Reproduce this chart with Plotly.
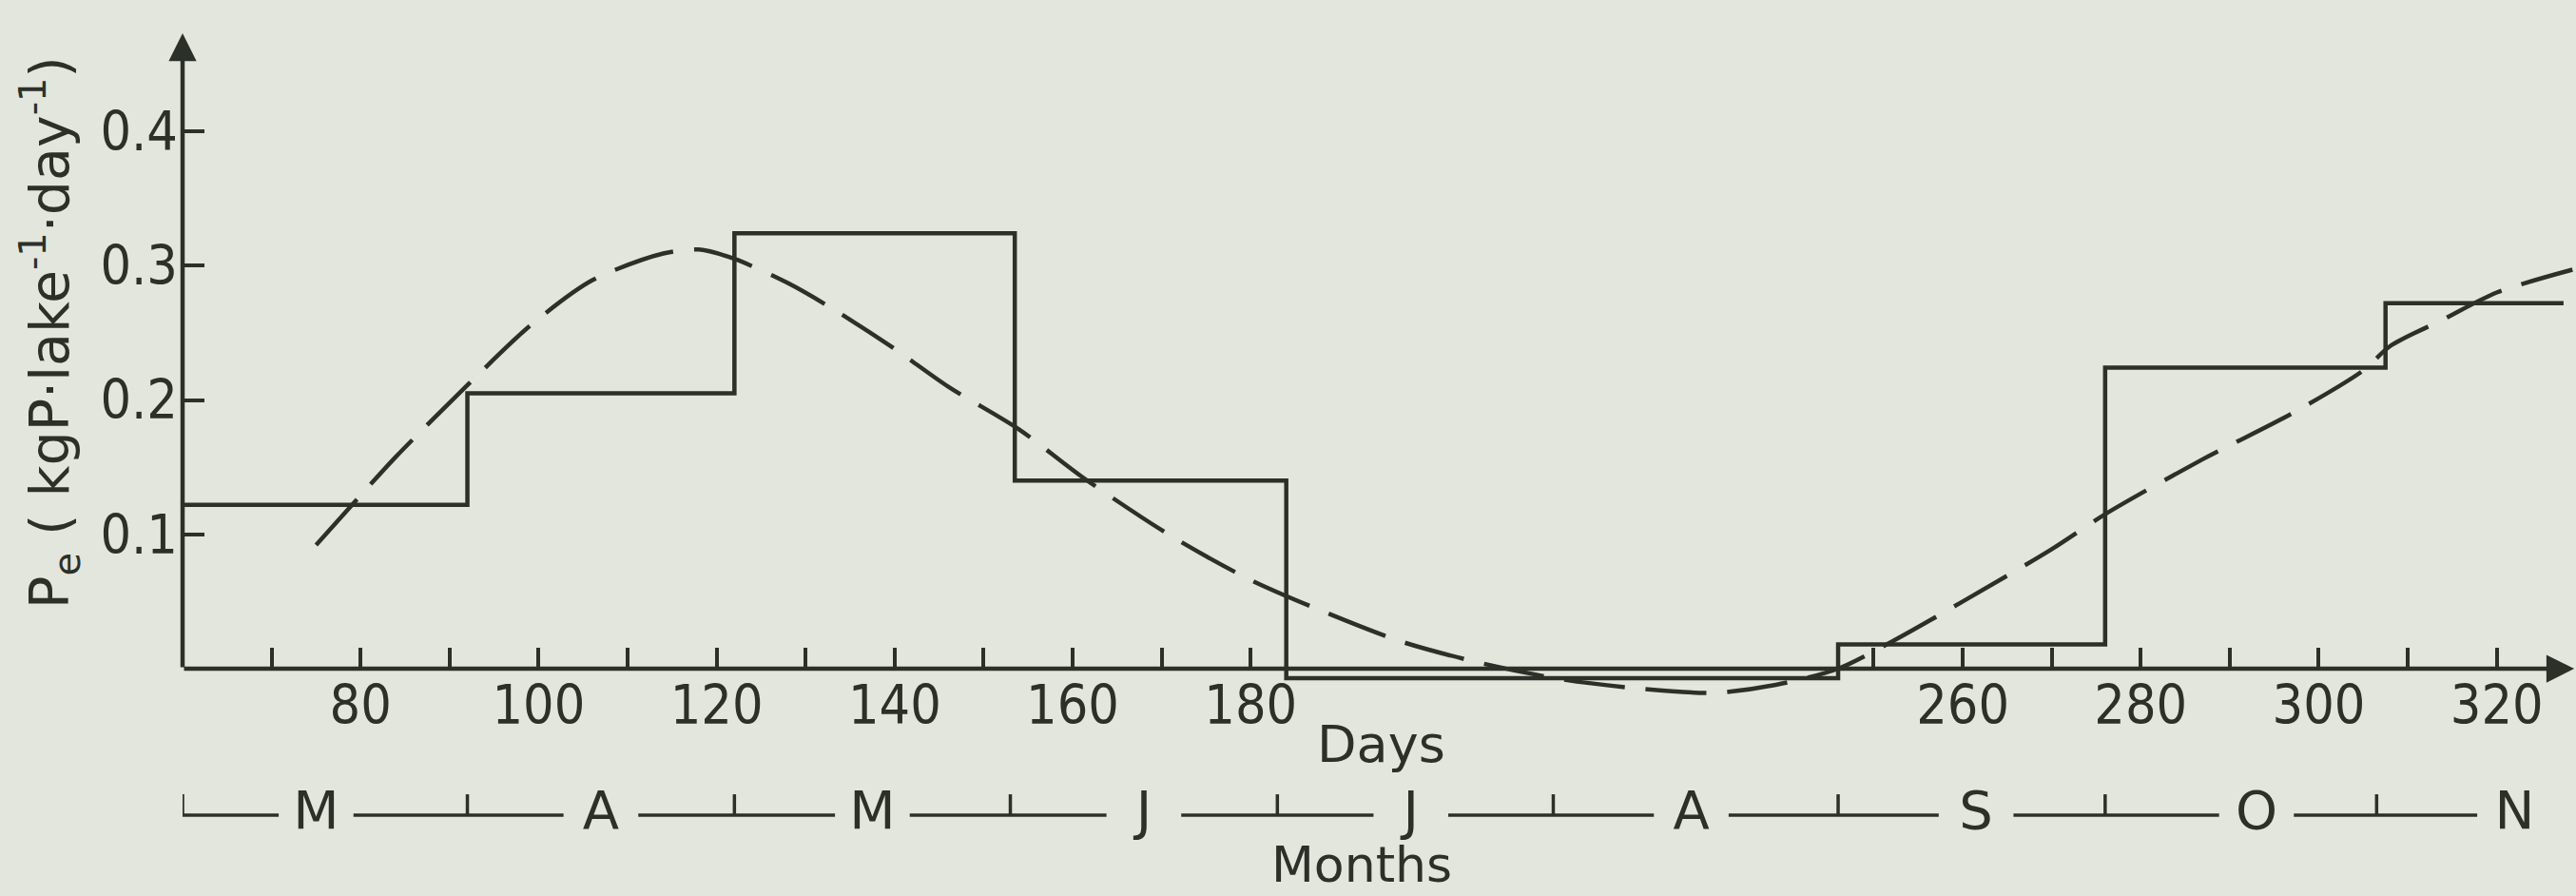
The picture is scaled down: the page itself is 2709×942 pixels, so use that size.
"""Epilimnion phosphorus loading from deeper layers: monthly budget vs. fitted curve."""
import plotly.graph_objects as go

# --- data ------------------------------------------------------------------
# step series: monthly loading (edges in day-of-year, one value per month)
month_edges = [60, 92, 122, 153.5, 184, 214, 246, 276, 307.5, 327.5]
month_values = [0.122, 0.205, 0.324, 0.140, -0.007, -0.007, 0.018, 0.224, 0.272]

# dashed curve
curve_days = [75, 80, 84, 92, 99, 106, 114, 118, 122, 128, 133, 140, 146, 154,
              161, 171, 180, 188, 197, 206, 215, 224, 232, 239, 246, 252, 260,
              270, 276, 287, 297, 305, 308, 314, 320, 328.5]
curve_values = [0.092, 0.129, 0.158, 0.211, 0.255, 0.289, 0.309, 0.312, 0.305,
                0.287, 0.268, 0.238, 0.21, 0.178, 0.143, 0.099, 0.066, 0.043,
                0.02, 0.004, -0.008, -0.015, -0.018, -0.012, 0.0, 0.02, 0.05,
                0.089, 0.115, 0.156, 0.19, 0.222, 0.24, 0.26, 0.28, 0.297]

day_labels = [80, 100, 120, 140, 160, 180, 260, 280, 300, 320]
day_minor = [70, 90, 110, 130, 150, 170, 250, 270, 290, 310]
y_ticks = [0.1, 0.2, 0.3, 0.4]

month_letters = ["M", "A", "M", "J", "J", "A", "S", "O", "N"]
month_centers = [75, 107, 137.5, 168, 198, 229.5, 261.5, 293, 322]
month_ticks = [60, 92, 122, 153, 183, 214, 246, 276, 306.5]

# --- styling / geometry ----------------------------------------------------
INK = "#2b3029"
PAPER = "#e3e6dd"
TICK_FONT = "DejaVu Sans Condensed, Liberation Sans, sans-serif"
TEXT_FONT = "DejaVu Sans, Verdana, sans-serif"

X_RANGE = [60, 328.9]
Y_RANGE = [-0.1692, 0.4977]
ROW_Y = -0.109        # month row baseline
ROW_TICK = 0.0155     # month tick height
GAP = 4.2             # half gap (days) around month letters

fig = go.Figure()

# monthly step line
fig.add_trace(go.Scatter(
    x=month_edges, y=month_values + [month_values[-1]], mode="lines",
    line_shape="hv", line=dict(color=INK, width=4.5), hoverinfo="skip",
))

# dashed curve
fig.add_trace(go.Scatter(
    x=curve_days, y=curve_values, mode="lines",
    line=dict(color=INK, width=4.5, dash="64px,22px", shape="spline", smoothing=0.8),
    hoverinfo="skip",
))

# month row: line pieces broken around letters
row_x, row_y = [], []
start = month_ticks[0]
for c in month_centers:
    if c - GAP > start:
        row_x += [start, c - GAP, None]
        row_y += [ROW_Y, ROW_Y, None]
    start = c + GAP
tick_x, tick_y = [], []
for t in month_ticks:
    tick_x += [t, t, None]
    tick_y += [ROW_Y, ROW_Y + ROW_TICK, None]
fig.add_trace(go.Scatter(x=row_x, y=row_y, mode="lines",
                         line=dict(color=INK, width=3.5), hoverinfo="skip"))
fig.add_trace(go.Scatter(x=tick_x, y=tick_y, mode="lines",
                         line=dict(color=INK, width=3.5), hoverinfo="skip"))
fig.add_trace(go.Scatter(
    x=month_centers, y=[ROW_Y] * len(month_centers), mode="text",
    text=month_letters, textposition="middle center",
    textfont=dict(family=TEXT_FONT, size=56, color=INK), hoverinfo="skip",
))

# axis lines with arrow heads
fig.add_annotation(x=X_RANGE[1] - 0.2, y=0, ax=X_RANGE[0], ay=0,
                   xref="x", yref="y", axref="x", ayref="y", text="",
                   showarrow=True, arrowhead=2, arrowsize=1.3, arrowwidth=4.5,
                   arrowcolor=INK, standoff=0)
fig.add_annotation(x=X_RANGE[0], y=0.473, ax=X_RANGE[0], ay=0,
                   xref="x", yref="y", axref="x", ayref="y", text="",
                   showarrow=True, arrowhead=2, arrowsize=1.3, arrowwidth=4.5,
                   arrowcolor=INK, standoff=0)

# axis titles
fig.add_annotation(x=194.7, y=-0.0566, xref="x", yref="y", text="Days",
                   showarrow=False, font=dict(family=TEXT_FONT, size=54, color=INK))
fig.add_annotation(x=192.5, y=Y_RANGE[0] + 0.001, xref="x", yref="y", text="Months",
                   yanchor="bottom", showarrow=False,
                   font=dict(family=TEXT_FONT, size=52, color=INK))
fig.add_annotation(x=-0.0556, y=0.25, xref="paper", yref="y", textangle=-90,
                   xanchor="center", yanchor="middle",
                   text="P<sub>e</sub> ( kgP·lake<sup>-1</sup>·day<sup>-1</sup>)",
                   showarrow=False, font=dict(family=TEXT_FONT, size=57, color=INK))

fig.update_layout(
    width=2709, height=942,
    margin=dict(l=192, r=0, t=0, b=0),
    paper_bgcolor=PAPER, plot_bgcolor=PAPER,
    showlegend=False,
    xaxis=dict(
        range=X_RANGE, anchor="free",
        position=-Y_RANGE[0] / (Y_RANGE[1] - Y_RANGE[0]),
        tickvals=day_labels,
        ticks="inside", ticklen=22, tickwidth=3.5, tickcolor=INK,
        ticklabelstandoff=0,
        tickfont=dict(family=TICK_FONT, size=57, color=INK),
        minor=dict(tickvals=day_minor, ticks="inside", ticklen=22,
                   tickwidth=3.5, tickcolor=INK, showgrid=False),
        showgrid=False, zeroline=False, showline=False,
    ),
    yaxis=dict(
        range=Y_RANGE, tickvals=y_ticks,
        ticktext=["0.1", "0.2", "0.3", "0.4"],
        ticks="inside", ticklen=23, tickwidth=3.5, tickcolor=INK,
        ticklabelstandoff=4,
        tickfont=dict(family=TICK_FONT, size=57, color=INK),
        showgrid=False, zeroline=False, showline=False,
    ),
)

fig.write_html("out.html", config={"displayModeBar": False},
               post_script="document.body.style.margin='0';")
